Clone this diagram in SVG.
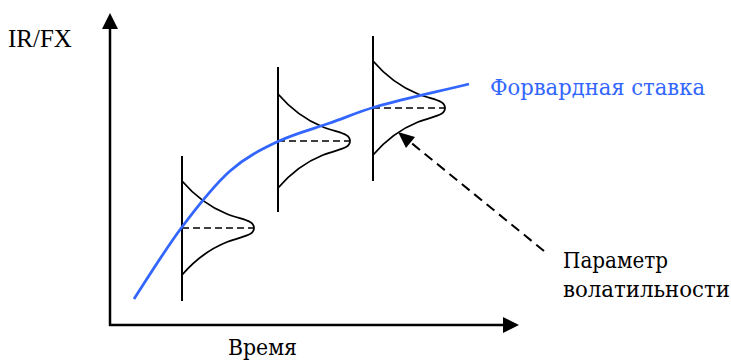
<svg xmlns="http://www.w3.org/2000/svg" width="731" height="363" viewBox="0 0 731 363">
<style>
text{font-family:"Liberation Serif","Times New Roman",serif;font-size:25px;fill:#000}
.cyr{font-family:"DejaVu Serif Condensed","DejaVu Serif","Liberation Serif",serif;font-size:23px}
.blue{fill:#3366FF}
.axis{stroke:#000;stroke-width:2.5;fill:none}
.vline{stroke:#000;stroke-width:2;fill:none}
.bell{stroke:#000;stroke-width:1.8;fill:none}
.mean{stroke:#000;stroke-width:1.6;stroke-dasharray:7 4;fill:none}
.fwd{stroke:#3366FF;stroke-width:2.8;fill:none}
.ptr{stroke:#000;stroke-width:2;stroke-dasharray:10 6;fill:none}
</style>
<defs>
<path id="bellShape" d="M0,-47 C12,-33 25,-22 45,-14 C60,-8 72,-8 72,0 C72,8 60,8 45,14 C25,22 12,33 0,47"/>
</defs>
<rect width="731" height="363" fill="#fff"/>
<g id="axes">
<line class="axis" x1="110" y1="26" x2="110" y2="326"/>
<line class="axis" x1="109" y1="325" x2="505" y2="325"/>
<polygon points="110,13 102,29 118,29" fill="#000"/>
<polygon points="519,325 503,317 503,333" fill="#000"/>
</g>
<g id="dist1">
<line class="vline" x1="182" y1="156" x2="182" y2="301"/>
<use href="#bellShape" class="bell" transform="translate(182,228)"/>
<line class="mean" x1="182" y1="228" x2="253" y2="228"/>
</g>
<g id="dist2">
<line class="vline" x1="278" y1="67" x2="278" y2="212"/>
<use href="#bellShape" class="bell" transform="translate(278,141)"/>
<line class="mean" x1="278" y1="141" x2="349" y2="141"/>
</g>
<g id="dist3">
<line class="vline" x1="373" y1="36" x2="373" y2="181"/>
<use href="#bellShape" class="bell" transform="translate(373,108)"/>
<line class="mean" x1="373" y1="108" x2="445" y2="108"/>
</g>
<g id="connectors">
<path class="fwd" d="M134,299 C150,274.3 166,248.3 182,227 C198,205.7 214,185.3 230,171 C246,156.8 261.3,149.5 278,141.5 C294.7,133.5 313.8,128.8 330,123 C346.2,117.3 360,111.2 375,107 C406.3,98.2 437.7,91.7 469,84"/>
<line class="ptr" x1="544" y1="251" x2="409" y2="141"/>
<polygon points="398,132 415,137 406,148" fill="#000"/>
</g>
<g id="labels">
<text x="8" y="47">IR/FX</text>
<text class="cyr blue" x="490" y="95" textLength="215" lengthAdjust="spacingAndGlyphs">Форвардная ставка</text>
<text class="cyr" x="563" y="268" textLength="105" lengthAdjust="spacingAndGlyphs">Параметр</text>
<text class="cyr" x="563" y="297" textLength="167" lengthAdjust="spacingAndGlyphs">волатильности</text>
<text class="cyr" x="228" y="355" textLength="69" lengthAdjust="spacingAndGlyphs">Время</text>
</g>
</svg>
